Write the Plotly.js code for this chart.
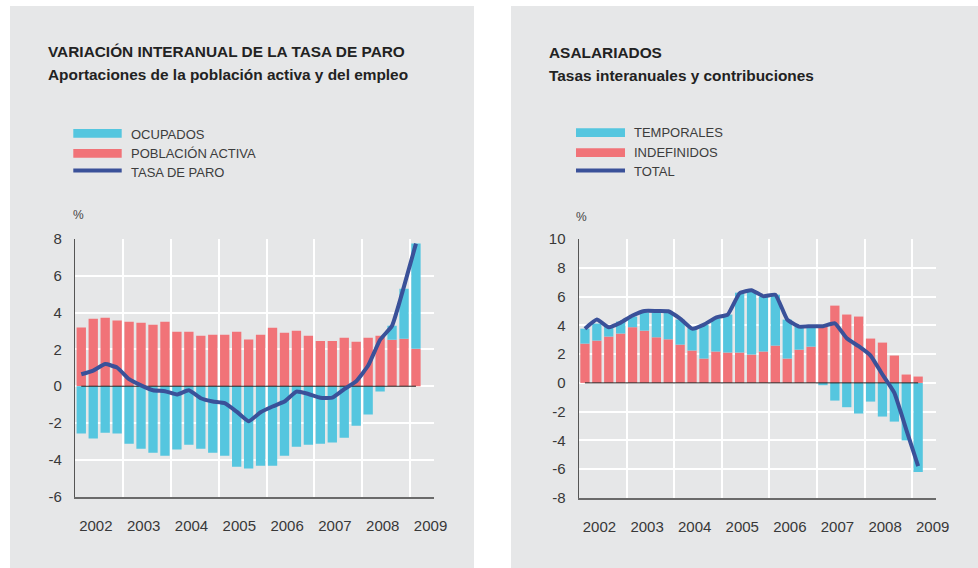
<!DOCTYPE html>
<html>
<head>
<meta charset="utf-8">
<script src="https://cdn.plot.ly/plotly-3.0.1.min.js"></script>
<style>
html,body{margin:0;padding:0;background:#ffffff;}
#chart{width:978px;height:568px;}
</style>
</head>
<body>
<div id="chart"></div>
<script>
// ---------- DATA ----------
const quarters = [
  '2002-I','2002-II','2002-III','2002-IV',
  '2003-I','2003-II','2003-III','2003-IV',
  '2004-I','2004-II','2004-III','2004-IV',
  '2005-I','2005-II','2005-III','2005-IV',
  '2006-I','2006-II','2006-III','2006-IV',
  '2007-I','2007-II','2007-III','2007-IV',
  '2008-I','2008-II','2008-III','2008-IV',
  '2009-I'
];
const years = [2002, 2003, 2004, 2005, 2006, 2007, 2008, 2009];

// Left chart: Variación interanual de la tasa de paro
const leftNames = ['OCUPADOS', 'POBLACIÓN ACTIVA', 'TASA DE PARO'];
const poblacionActiva = [3.19, 3.66, 3.71, 3.57, 3.50, 3.44, 3.33, 3.50, 2.95, 2.95, 2.74, 2.79, 2.79, 2.95, 2.54, 2.79,
                         3.17, 2.90, 3.01, 2.74, 2.46, 2.46, 2.63, 2.41, 2.63, 2.74, 2.52, 2.57, 2.03];
const ocupados = [-2.57, -2.84, -2.52, -2.57, -3.12, -3.39, -3.61, -3.77, -3.44, -3.17, -3.39, -3.61, -3.77, -4.37, -4.47, -4.31,
                  -4.31, -3.77, -3.28, -3.17, -3.12, -3.06, -2.79, -2.14, -1.54, -0.29, 0.76, 2.72, 5.71];
const tasaParo = [0.65, 0.85, 1.20, 1.01, 0.38, 0.05, -0.22, -0.27, -0.45, -0.22, -0.65, -0.83, -0.92, -1.38, -1.90, -1.41,
                  -1.10, -0.83, -0.29, -0.42, -0.62, -0.62, -0.16, 0.27, 1.12, 2.52, 3.28, 5.42, 7.74];
const leftYTicks = [-6, -4, -2, 0, 2, 4, 6, 8];

// Right chart: Asalariados
const rightNames = ['TEMPORALES', 'INDEFINIDOS', 'TOTAL'];
const indefinidos = [2.73, 2.94, 3.22, 3.43, 3.87, 3.63, 3.17, 3.03, 2.66, 2.25, 1.69, 2.18, 2.11, 2.11, 1.97, 2.18,
                     2.59, 1.69, 2.31, 2.52, 3.94, 5.37, 4.75, 4.61, 3.08, 2.80, 1.90, 0.58, 0.44];
const temporales = [1.04, 1.18, 0.69, 0.83, 0.74, 1.25, 1.71, 1.85, 1.74, 1.59, 2.36, 2.29, 2.64, 4.16, 4.44, 3.82,
                    3.54, 2.71, 1.67, 1.39, -0.16, -1.23, -1.69, -2.13, -1.30, -2.34, -2.69, -4.00, -6.20];
const totalAsal = [3.77, 4.40, 3.87, 4.19, 4.68, 5.00, 5.00, 4.98, 4.47, 3.77, 4.05, 4.54, 4.75, 6.23, 6.44, 6.02,
                   6.13, 4.40, 3.91, 3.94, 3.94, 4.14, 3.10, 2.55, 1.90, 0.58, -0.69, -3.24, -5.79];
const rightYTicks = [-8, -6, -4, -2, 0, 2, 4, 6, 8, 10];

const titles = {
  left:  ['VARIACIÓN INTERANUAL DE LA TASA DE PARO', 'Aportaciones de la población activa y del empleo'],
  right: ['ASALARIADOS', 'Tasas interanuales y contribuciones']
};

// ---------- STYLE ----------
const CYAN = '#55c6df', RED = '#f17378', NAVY = '#3a5199', PANEL = '#e6e7e8';
const FONT = 'Liberation Sans, Arial, sans-serif';
const W = 978, H = 568;
const px = x => x / W;
const py = y => 1 - y / H;

// quarter label -> numeric position on a year axis (middle of the quarter)
const romans = ['I', 'II', 'III', 'IV'];
const xq = quarters.map(q => { const p = q.split('-'); return +p[0] + (romans.indexOf(p[1]) + 0.5) / 4; });
const zeros = quarters.map(() => 0);

const BARW = 0.195;
function bar(x, y, color, xa, ya) {
  return {type: 'bar', x: x, y: y, width: BARW, marker: {color: color, line: {width: 0}},
          xaxis: xa, yaxis: ya, showlegend: false, hoverinfo: 'skip'};
}
function line(x, y, color, width, xa, ya, shape) {
  return {type: 'scatter', mode: 'lines', x: x, y: y, line: {color: color, width: width, shape: shape || 'linear', smoothing: 0.4},
          xaxis: xa, yaxis: ya, showlegend: false, hoverinfo: 'skip'};
}

const traces = [
  bar(xq, poblacionActiva, RED, 'x', 'y'),
  bar(xq, ocupados, CYAN, 'x', 'y'),
  line(xq, zeros, '#222222', 1, 'x', 'y'),
  line(xq, tasaParo, NAVY, 4, 'x', 'y', 'spline'),
  bar(xq, indefinidos, RED, 'x2', 'y2'),
  bar(xq, temporales, CYAN, 'x2', 'y2'),
  line(xq, zeros, '#222222', 1, 'x2', 'y2'),
  line(xq, totalAsal, NAVY, 4, 'x2', 'y2', 'spline')
];

const tickFont = {family: FONT, size: 15, color: '#383838'};
function xAxis(domain, anchor) {
  return {
    domain: domain, anchor: anchor, range: [2002, 2009.5], fixedrange: true,
    tickmode: 'array', tickvals: years.map(y => y + 0.43), ticktext: years.map(String),
    showgrid: false, zeroline: false,
    minor: {tickmode: 'linear', tick0: 2002, dtick: 1, showgrid: true, gridcolor: '#ffffff', gridwidth: 2, ticks: ''},
    showline: true, linecolor: '#6a6a6a', linewidth: 2,
    ticks: 'outside', ticklen: 14, tickcolor: 'rgba(0,0,0,0)',
    tickfont: tickFont
  };
}
function yAxis(domain, anchor, ticks) {
  return {
    domain: domain, anchor: anchor, range: [ticks[0], ticks[ticks.length - 1]], fixedrange: true,
    tickmode: 'array', tickvals: ticks, ticktext: ticks.map(String),
    showgrid: true, gridcolor: '#ffffff', gridwidth: 2, zeroline: false,
    showline: true, linecolor: '#555555', linewidth: 1.5,
    ticks: 'outside', ticklen: 9, tickcolor: 'rgba(0,0,0,0)',
    tickfont: tickFont
  };
}

const shapes = [
  {type: 'rect', xref: 'paper', yref: 'paper', x0: px(10), x1: px(474), y0: 0, y1: py(6), fillcolor: PANEL, line: {width: 0}, layer: 'below'},
  {type: 'rect', xref: 'paper', yref: 'paper', x0: px(511), x1: 1, y0: 0, y1: py(6), fillcolor: PANEL, line: {width: 0}, layer: 'below'}
];
const annotations = [];

function legend(x0, x1, ys, textYs, names, colors) {
  // two bar swatches and one line swatch, with labels
  for (let i = 0; i < 3; i++) {
    if (i < 2) {
      shapes.push({type: 'rect', xref: 'paper', yref: 'paper', x0: px(x0), x1: px(x1), y0: py(ys[i] + 4.4), y1: py(ys[i] - 4.4),
                   fillcolor: colors[i], line: {width: 0}});
    } else {
      shapes.push({type: 'line', xref: 'paper', yref: 'paper', x0: px(x0), x1: px(x1), y0: py(ys[i]), y1: py(ys[i]),
                   line: {color: colors[i], width: 4}});
    }
    annotations.push({xref: 'paper', yref: 'paper', x: px(x1 + 7), y: py(textYs[i]), xanchor: 'left', yanchor: 'middle',
                      text: names[i], showarrow: false, font: {family: FONT, size: 13, color: '#3c3c3c'}});
  }
}
legend(73.3, 121.7, [133.4, 153.4, 170.4], [134, 153.6, 172.2], leftNames, [CYAN, RED, NAVY]);
legend(576, 625, [132.7, 152.7, 170.5], [132.6, 152.8, 171.4], rightNames, [CYAN, RED, NAVY]);

function titleBlock(x, yTitle, ySub, t) {
  annotations.push({xref: 'paper', yref: 'paper', x: px(x), y: py(yTitle), xanchor: 'left', yanchor: 'middle',
                    text: '<b>' + t[0] + '</b>', showarrow: false, font: {family: FONT, size: 15.4, color: '#222222'}});
  annotations.push({xref: 'paper', yref: 'paper', x: px(x), y: py(ySub), xanchor: 'left', yanchor: 'middle',
                    text: '<b>' + t[1] + '</b>', showarrow: false, font: {family: FONT, size: 15.4, color: '#222222'}});
}
titleBlock(46, 51.5, 74.5, titles.left);
titleBlock(547, 52.5, 75.5, titles.right);

annotations.push({xref: 'paper', yref: 'paper', x: px(78), y: py(215), xanchor: 'center', yanchor: 'middle',
                  text: '%', showarrow: false, font: {family: FONT, size: 12, color: '#444444'}});
annotations.push({xref: 'paper', yref: 'paper', x: px(581), y: py(217), xanchor: 'center', yanchor: 'middle',
                  text: '%', showarrow: false, font: {family: FONT, size: 12, color: '#444444'}});

const layout = {
  width: W, height: H,
  margin: {l: 0, r: 0, t: 0, b: 0, pad: 0},
  paper_bgcolor: '#ffffff', plot_bgcolor: PANEL,
  barmode: 'relative', showlegend: false,
  font: {family: FONT},
  xaxis: xAxis([px(75.3), px(433.9)], 'y'),
  yaxis: yAxis([py(496.8), py(238.8)], 'x', leftYTicks),
  xaxis2: xAxis([px(579), px(936)], 'y2'),
  yaxis2: yAxis([py(498), py(239)], 'x2', rightYTicks),
  shapes: shapes,
  annotations: annotations
};

Plotly.newPlot('chart', traces, layout, {staticPlot: true, displayModeBar: false});
</script>
</body>
</html>
